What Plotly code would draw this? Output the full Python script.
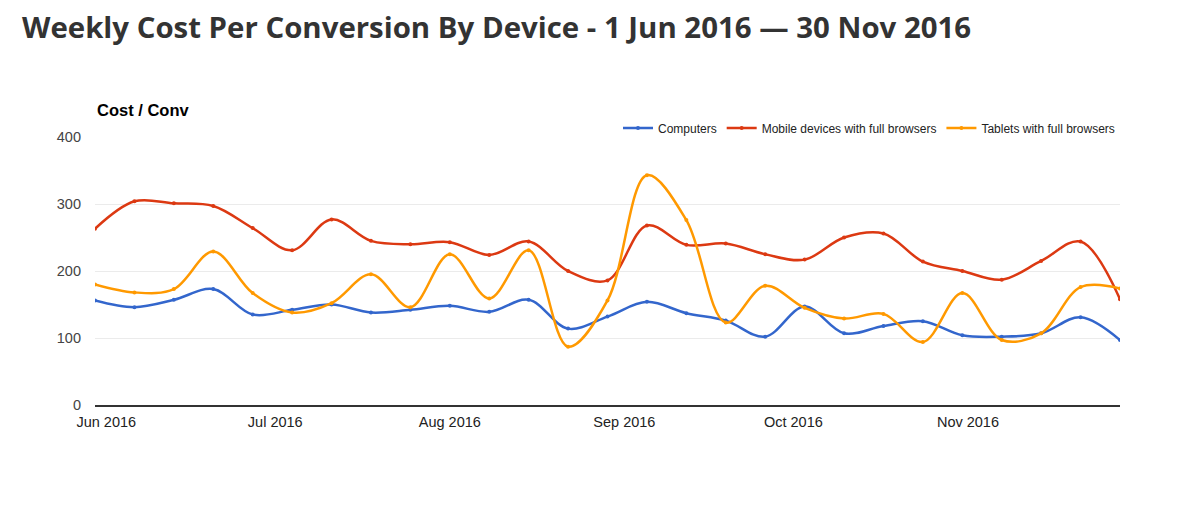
import plotly.graph_objects as go
import pandas as pd

weeks = pd.date_range("2016-05-30", "2016-11-28", freq="7D").strftime("%Y-%m-%d").tolist()

computers = [156, 146, 157, 173, 135, 142, 150, 138, 142, 148, 139, 157, 114, 132,
             154, 137, 126, 102, 147, 107, 118, 125, 104, 102, 107, 131, 97]
mobile = [263, 304, 301, 297, 264, 231, 277, 245, 240, 243, 224, 244, 200, 186,
          268, 239, 241, 225, 217, 250, 256, 214, 200, 187, 215, 244, 158]
tablets = [180, 168, 173, 229, 167, 138, 152, 195, 146, 225, 159, 231, 87, 156,
           343, 276, 123, 178, 145, 129, 136, 94, 167, 97, 107, 176, 174]

series_names = ["Computers", "Mobile devices with full browsers", "Tablets with full browsers"]
series_colors = ["#3366cc", "#dc3912", "#ff9900"]
tick_dates = ["2016-06-01", "2016-07-01", "2016-08-01", "2016-09-01", "2016-10-01", "2016-11-01"]
tick_labels = ["Jun 2016", "Jul 2016", "Aug 2016", "Sep 2016", "Oct 2016", "Nov 2016"]
y_ticks = [0, 100, 200, 300, 400]

fig = go.Figure()
for name, vals, col in zip(series_names, [computers, mobile, tablets], series_colors):
    fig.add_trace(go.Scatter(
        x=weeks, y=vals, name=name, mode="lines+markers",
        line=dict(color=col, width=2.5, shape="spline", smoothing=1.0),
        marker=dict(size=4, color=col),
    ))

# page body adds an 8px offset; compensate
OFF = 8
W, H = 1180, 520
L, T = 95 - OFF, 137 - OFF
plot_w, plot_h = 1120 - 95, 405 - 137
R = W - L - plot_w
B = H - T - plot_h

fig.update_layout(
    width=W, height=H,
    margin=dict(l=L, r=R, t=T, b=B),
    paper_bgcolor="white", plot_bgcolor="white",
    font=dict(family="Arial, Liberation Sans, sans-serif", size=13, color="#222"),
    title=dict(
        text="<b>Weekly Cost Per Conversion By Device - 1 Jun 2016 — 30 Nov 2016</b>",
        font=dict(family="Open Sans", size=29.4, color="#333"),
        x=(22 - OFF) / W, xanchor="left", xref="container",
        y=1 - (28 - OFF) / H, yanchor="middle", yref="container",
    ),
    legend=dict(
        orientation="h", x=1, xanchor="right", y=(405 - 128) / plot_h,
        yanchor="middle", font=dict(size=12, color="#222"), bgcolor="rgba(0,0,0,0)",
        itemwidth=30, tracegroupgap=0,
    ),
    showlegend=True,
    xaxis=dict(
        range=[weeks[0], weeks[-1]], type="date",
        tickvals=tick_dates, ticktext=tick_labels,
        showgrid=False, showline=True, linecolor="#333", linewidth=1.5,
        ticks="", zeroline=False, tickfont=dict(size=14.5, color="#222"),
        ticklabelstandoff=3,
    ),
    yaxis=dict(
        range=[0, 400], tickvals=y_ticks, showgrid=True, gridcolor="#ebebeb", gridwidth=1,
        zeroline=False, showline=False, ticks="", tickfont=dict(size=14.5, color="#444"),
        ticklabelstandoff=13,
    ),
    annotations=[dict(
        text="<b>Cost / Conv</b>", x=0, xref="paper", xanchor="left",
        y=(405 - 110) / plot_h, yref="paper", yanchor="middle", showarrow=False,
        font=dict(family="Arial, Liberation Sans, sans-serif", size=16.5, color="#000"),
    )],
)

fig.write_html("out.html")
